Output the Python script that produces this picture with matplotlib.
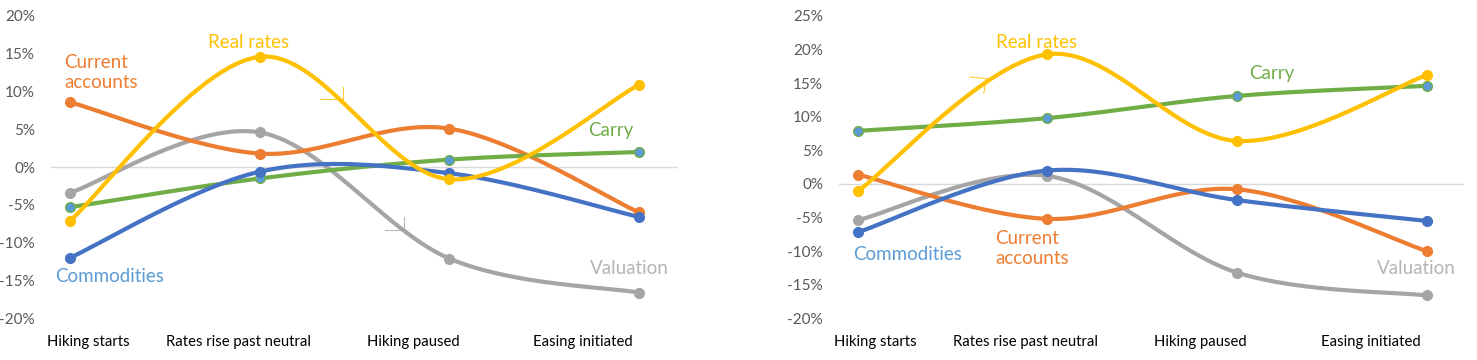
import numpy as np
import matplotlib
matplotlib.use("Agg")
import matplotlib.pyplot as plt
from matplotlib.lines import Line2D

plt.rcParams['font.family'] = ['Lato', 'DejaVu Sans']

categories = ["Hiking starts", "Rates rise past neutral", "Hiking paused", "Easing initiated"]

# Left panel values (%)
left_current_accounts = [8.6, 1.8, 5.1, -6.0]
left_real_rates = [-7.1, 14.6, -1.6, 10.9]
left_valuation = [-3.4, 4.6, -12.1, -16.6]
left_carry = [-5.3, -1.5, 1.0, 2.0]
left_commodities = [-12.0, -0.6, -0.8, -6.6]

# Right panel values (%)
right_current_accounts = [1.4, -5.2, -0.8, -10.0]
right_real_rates = [-1.1, 19.3, 6.4, 16.2]
right_valuation = [-5.4, 1.2, -13.2, -16.6]
right_carry = [7.9, 9.8, 13.1, 14.6]
right_commodities = [-7.2, 2.0, -2.4, -5.5]

left_yticks = [-20, -15, -10, -5, 0, 5, 10, 15, 20]
right_yticks = [-20, -15, -10, -5, 0, 5, 10, 15, 20, 25]

C_ORANGE = "#ED7D31"
C_YELLOW = "#FFC000"
C_GRAY = "#A5A5A5"
C_GREEN = "#70AD47"
C_BLUE = "#4472C4"
C_LBLUE = "#5B9BD5"


def smooth(x, y, n=60):
    x = np.asarray(x, float)
    y = np.asarray(y, float)
    P = np.column_stack([x, y])
    m = len(P)
    out = []
    for i in range(m - 1):
        p0 = P[i - 1] if i > 0 else P[i]
        p1 = P[i]
        p2 = P[i + 1]
        p3 = P[i + 2] if i + 2 < m else P[i + 1]
        c1 = p1 + (p2 - p0) / 6.0
        c2 = p2 - (p3 - p1) / 6.0
        t = np.linspace(0, 1, n)[:, None]
        seg = ((1 - t) ** 3) * p1 + 3 * ((1 - t) ** 2) * t * c1 + 3 * (1 - t) * t ** 2 * c2 + t ** 3 * p2
        out.append(seg if i == 0 else seg[1:])
    out = np.vstack(out)
    return out[:, 0], out[:, 1]


W, H = 1477, 360
fig = plt.figure(figsize=(W / 100, H / 100), dpi=100)

label_offsets = [0.095, -0.113, -0.192, -0.295]


def panel(rect, series, yticks, ylim, xlim, labels):
    ax = fig.add_axes(rect)
    x = np.arange(len(categories))
    ax.axhline(0, color="#D9D9D9", lw=1.0, zorder=1)
    for vals, col, face in series:
        xs, ys = smooth(x, vals)
        ax.plot(xs, ys, color=col, lw=3.0, solid_capstyle='round', zorder=2)
        ax.plot(x, vals, 'o', color=col, mfc=face, mec=col, ms=7, mew=1.0, zorder=3)
    ax.set_xlim(*xlim)
    ax.set_ylim(*ylim)
    ax.set_yticks(yticks)
    ax.set_yticklabels([f"{v}%" for v in yticks])
    ax.tick_params(axis='y', length=0, pad=11.5, labelsize=11, labelcolor="#595959")
    ax.set_xticks(x + np.array(label_offsets))
    ax.set_xticklabels(categories)
    ax.tick_params(axis='x', length=0, pad=12, labelsize=10.7, labelcolor="#000000")
    for s in ax.spines.values():
        s.set_visible(False)
    ax.patch.set_alpha(0)
    for txt, px, py, col, ha in labels:
        fig.text(px / W, 1 - py / H, txt, color=col, fontsize=13.5, ha=ha, va='center', linespacing=1.28)
    return ax


ax1 = panel([51 / W, 1 - 318.3 / H, (678 - 51) / W, (318.3 - 16) / H],
            [(left_valuation, C_GRAY, C_GRAY),
             (left_current_accounts, C_ORANGE, C_ORANGE),
             (left_carry, C_GREEN, C_LBLUE),
             (left_commodities, C_BLUE, C_BLUE),
             (left_real_rates, C_YELLOW, C_YELLOW)],
            left_yticks, (-20, 20), (-0.1, 3.205),
            [("Current\naccounts", 64, 72.5, C_ORANGE, 'left'),
             ("Real rates", 249, 42, C_YELLOW, 'center'),
             ("Commodities", 110, 276, C_LBLUE, 'center'),
             ("Carry", 611, 130, C_GREEN, 'center'),
             ("Valuation", 629, 268, "#B4B4B4", 'center')])

ax2 = panel([839 / W, 1 - 318.3 / H, (1464 - 839) / W, (318.3 - 16) / H],
            [(right_valuation, C_GRAY, C_GRAY),
             (right_current_accounts, C_ORANGE, C_ORANGE),
             (right_carry, C_GREEN, C_LBLUE),
             (right_commodities, C_BLUE, C_BLUE),
             (right_real_rates, C_YELLOW, C_YELLOW)],
            right_yticks, (-20, 25), (-0.099, 3.197),
            [("Real rates", 1037, 42, C_YELLOW, 'center'),
             ("Carry", 1272, 73, C_GREEN, 'center'),
             ("Current\naccounts", 995, 248.5, C_ORANGE, 'left'),
             ("Commodities", 908, 254, C_LBLUE, 'center'),
             ("Valuation", 1416, 268, "#B4B4B4", 'center')])

# small leader-line remnants
def seg(x0, y0, x1, y1, col):
    fig.add_artist(Line2D([x0 / W, x1 / W], [1 - y0 / H, 1 - y1 / H], color=col, lw=0.8,
                          transform=fig.transFigure, alpha=0.8))

seg(320, 99, 343, 99, C_YELLOW)
seg(343, 87, 343, 99, C_YELLOW)
seg(385, 230, 404, 230, C_GRAY)
seg(404, 217, 404, 230, C_GRAY)
seg(970, 77, 988, 79, C_YELLOW)
seg(986, 79, 984, 93, C_YELLOW)

fig.savefig("out.png", dpi=100)
